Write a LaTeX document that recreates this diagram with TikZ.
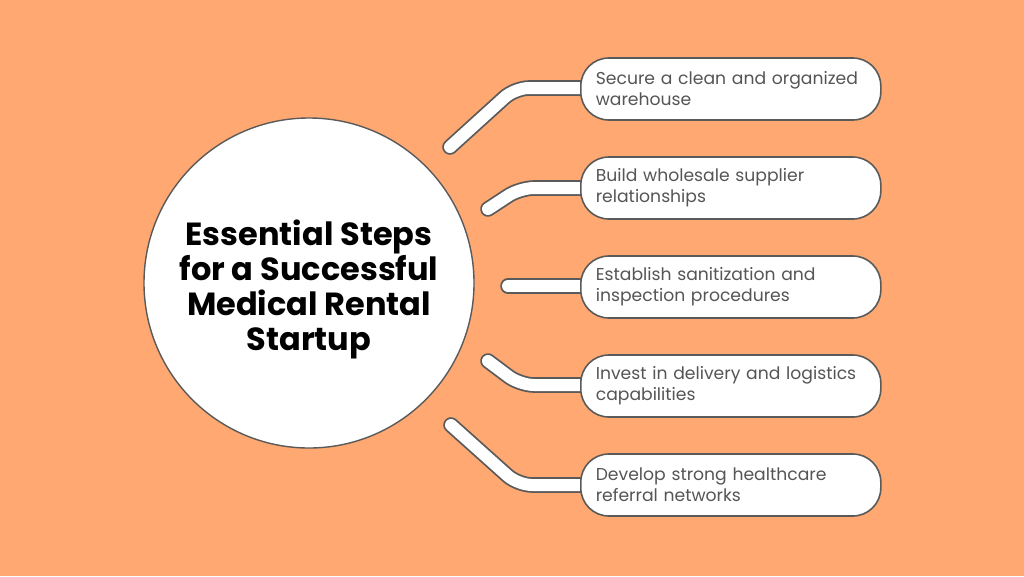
\documentclass[tikz,border=0pt]{standalone}
\usepackage{fontspec}
\setmainfont{Poppins}
\usepackage{tikz}

\definecolor{bgorange}{HTML}{FFA872}
\definecolor{rimgray}{HTML}{5A5A5A}
\definecolor{txtgray}{HTML}{555555}

\tikzset{
    stepbox/.style={draw=rimgray, line width=1.6pt, fill=white, rounded corners=28pt,
        minimum width=300pt, minimum height=62pt, text width=270pt, inner xsep=15pt,
        align=left, anchor=west, text=txtgray, font=\fontsize{17.2}{21}\selectfont},
    tube/.style={draw=rimgray, line width=1.8pt, double=white, double distance=12pt,
        line cap=round, line join=round, rounded corners=14pt}
}

\begin{document}
\begin{tikzpicture}[x=1pt, y=-1pt]
    \fill[bgorange] (0,0) rectangle (1024,576);
    \useasboundingbox (0,0) rectangle (1024,576);

    \node[draw=rimgray, line width=1.4pt, fill=white, circle, minimum size=330pt] (hub) at (309,283) {};
    \node[align=center, font=\fontsize{32}{35}\selectfont\bfseries] (title) at (309,289)
        {Essential Steps\\for a Successful\\Medical Rental\\Startup};

    % connectors first, boxes on top
    \foreach \k/\sx/\sy/\bx/\y in {
        1/450/147/515/88,
        2/488/209/520/188,
        3/508/286/540/286,
        4/488/361/520/385,
        5/451/425/518/485%
    } {
        \coordinate (s\k) at (\sx,\sy);
        \coordinate (b\k) at (\bx,\y);
        \coordinate (e\k) at (590,\y);
        \draw[tube] (s\k) -- (b\k) -- (e\k);
    }

    \foreach \k/\y/\txt in {
        1/89/{Secure a clean and organized\\warehouse},
        2/188/{Build wholesale supplier\\relationships},
        3/287/{Establish sanitization and\\inspection procedures},
        4/386/{Invest in delivery and logistics\\capabilities},
        5/485/{Develop strong healthcare\\referral networks}%
    } {
        \node[stepbox] (step\k) at (580,\y) {\txt};
    }
\end{tikzpicture}
\end{document}
